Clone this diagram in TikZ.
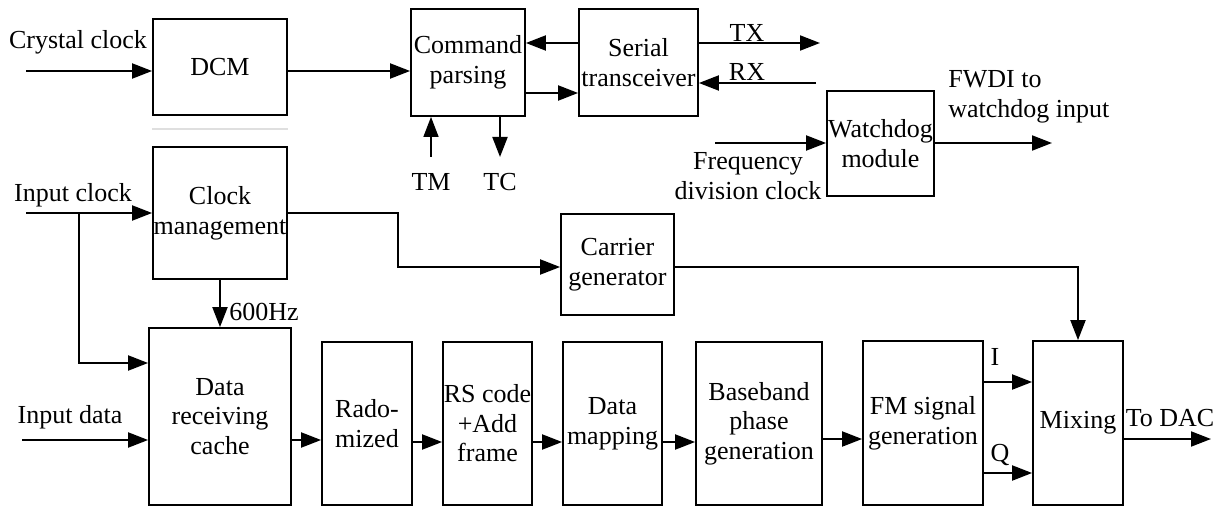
\documentclass[tikz,border=0pt]{standalone}
\usepackage{fontspec}
\setmainfont{Liberation Serif}
\usetikzlibrary{arrows.meta}
\begin{document}
\begin{tikzpicture}[x=0.5pt,y=-0.5pt,
  blk/.style={draw,line width=0.9pt,inner sep=0pt,align=center,font=\fontsize{13}{14.8}\selectfont},
  sz/.style 2 args={minimum width=#1*0.5pt,minimum height=#2*0.5pt},
  lbl/.style={inner sep=0pt,align=center,font=\fontsize{13}{14.8}\selectfont},
  arr/.style={line width=1pt,-{Triangle[length=10pt,width=7.5pt]}},
  ln/.style={line width=1pt}]
\useasboundingbox (0,0) rectangle (1226,508);
% blocks
\node[blk,sz={134}{96}] (dcm) at (220,67) {DCM};
\node[blk,sz={114}{107}] (cmd) at (468,62.5) {Command\\parsing};
\node[blk,sz={119}{107}] (ser) at (638.5,62.5) {Serial\\transceiver};
\node[blk,sz={107}{105}] (wd) at (880.5,143.5) {Watchdog\\module};
\node[blk,sz={134}{132}] (clk) at (220,213) {Clock\\management};
\node[blk,sz={113}{101}] (car) at (617.5,264.5) {Carrier\\generator};
\node[blk,sz={142}{177}] (drc) at (220,416.5) {Data\\receiving\\cache};
\node[blk,sz={90}{163}] (rad) at (367,423.5) {Rado-\\mized};
\node[blk,sz={89}{163}] (rs) at (487.5,423.5) {RS code\\+Add\\frame};
\node[blk,sz={99}{163}] (dm) at (612.5,423.5) {Data\\mapping};
\node[blk,sz={126}{163}] (bb) at (759,423.5) {Baseband\\phase\\generation};
\node[blk,sz={120}{164}] (fm) at (923,423) {FM signal\\generation};
\node[blk,sz={90}{164}] (mix) at (1078,423) {Mixing};
% separator
\draw[gray!25,line width=0.6pt] (dcm.south west |- 0,129) coordinate (sepa) -- (dcm.south east |- 0,129) coordinate (sepb);
% labels
\node[lbl] (lcry) at (78,42) {Crystal clock};
\node[lbl] (ltx) at (747,33) {TX};
\node[lbl] (lrx) at (747,72) {RX};
\node[lbl] (ltm) at (431,182) {TM};
\node[lbl] (ltc) at (500,182) {TC};
\node[lbl] (lfreq) at (748,176) {Frequency\\division clock};
\node[lbl,anchor=west,align=left] (lfwdi) at (948,97) {FWDI to\\watchdog input};
\node[lbl] (linclk) at (73,195) {Input clock};
\node[lbl,anchor=west] (l600) at (229,312) {600Hz};
\node[lbl] (lindata) at (70,417) {Input data};
\node[lbl] (li) at (995,357) {I};
\node[lbl] (lq) at (1000,455) {Q};
\node[lbl] (ldac) at (1170,418) {To DAC};
% free ends
\coordinate (cryin) at (26,71);
\coordinate (txout) at (820,43);
\coordinate (rxin) at (816,83);
\coordinate (tmin) at (431,157);
\coordinate (tcout) at (500,157);
\coordinate (freqin) at (715,143);
\coordinate (wdout) at (1052,143);
\coordinate (clkin) at (26,213);
\coordinate (br) at (79,213);
\coordinate (datain) at (22,440);
\coordinate (dacout) at (1211,439);
\coordinate (bend1) at (398,213);
\coordinate (bend2) at (398,267);
\coordinate (bend3) at (1078,267);
% connectors
\draw[arr] (cryin) -- (dcm.west |- cryin);
\draw[arr] (dcm.east |- cryin) -- (cmd.west |- cryin);
\draw[arr] (ser.west |- 0,43) -- (cmd.east |- 0,43);
\draw[arr] (cmd.east |- 0,93) -- (ser.west |- 0,93);
\draw[arr] (ser.east |- txout) -- (txout);
\draw[arr] (rxin) -- (ser.east |- rxin);
\draw[arr,line width=0.7pt] (tmin) -- (tmin |- cmd.south);
\draw[arr] (tcout |- cmd.south) -- (tcout);
\draw[arr] (freqin) -- (wd.west |- freqin);
\draw[arr] (wd.east |- wdout) -- (wdout);
\draw[arr] (clkin) -- (clk.west |- clkin);
\draw[arr] (br) |- (drc.west |- 0,363);
\draw[arr] (clk.south -| 220,0) -- (drc.north -| 220,0);
\draw[arr] (datain) -- (drc.west |- datain);
\draw[arr] (drc.east |- 0,440) -- (rad.west |- 0,440);
\draw[arr] (rad.east |- 0,442) -- (rs.west |- 0,442);
\draw[arr] (rs.east |- 0,442) -- (dm.west |- 0,442);
\draw[arr] (dm.east |- 0,442) -- (bb.west |- 0,442);
\draw[arr] (bb.east |- 0,439) -- (fm.west |- 0,439);
\draw[arr] (clk.east |- bend1) -- (bend1) -- (bend2) -- (car.west |- bend2);
\draw[arr] (car.east |- bend3) -- (bend3) -- (bend3 |- mix.north);
\draw[arr] (fm.east |- 0,382) -- (mix.west |- 0,382);
\draw[arr] (fm.east |- 0,473) -- (mix.west |- 0,473);
\draw[arr] (mix.east |- dacout) -- (dacout);
\end{tikzpicture}
\end{document}
